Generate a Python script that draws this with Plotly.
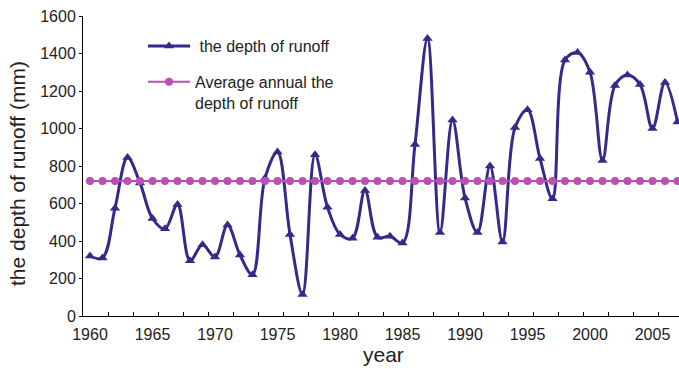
import plotly.graph_objects as go

years = list(range(1960, 2008))
runoff = [320, 310, 575, 845, 710, 520, 465, 595, 295, 380,
          315, 485, 325, 220, 735, 875, 435, 115, 860, 580,
          435, 415, 670, 420, 425, 390, 915, 1480, 445, 1045,
          630, 445, 800, 395, 1005, 1100, 840, 625, 1365, 1405,
          1300, 830, 1230, 1285, 1235, 1000, 1245, 1035]
average = [720] * len(years)
xtick_years = [1960, 1965, 1970, 1975, 1980, 1985, 1990, 1995, 2000, 2005]
ytick_vals = [0, 200, 400, 600, 800, 1000, 1200, 1400, 1600]

FONT = "Liberation Sans, Arial, sans-serif"
LINE_C = "#35298a"
AVG_C = "#bb4fb5"
xr = [1959.44, 2007.12]

fig = go.Figure()
fig.add_trace(go.Scatter(
    x=years, y=runoff, name=" the depth of runoff", legendgroup="a",
    mode="lines+markers",
    line=dict(color=LINE_C, width=3, shape="spline", smoothing=1),
    marker=dict(symbol="triangle-up", size=9, color=LINE_C),
    cliponaxis=True,
))
fig.add_trace(go.Scatter(
    x=years, y=average, name="Average annual the<br>depth of runoff", legendgroup="b",
    mode="lines+markers", xaxis="x2",
    line=dict(color=AVG_C, width=2),
    marker=dict(symbol="circle", size=8, color=AVG_C),
))

fig.update_layout(
    width=679, height=369,
    margin=dict(l=83, r=0, t=16, b=53),
    paper_bgcolor="white", plot_bgcolor="white",
    font=dict(family=FONT, size=16, color="#222"),
    showlegend=True,
    legend=dict(x=(143 - 83) / 596, y=(316 - 29) / 300, xanchor="left", yanchor="top",
                bgcolor="rgba(0,0,0,0)", font=dict(size=16, color="#222"),
                valign="top", tracegroupgap=12, itemwidth=42),
    xaxis=dict(range=xr, tickvals=xtick_years, ticks="", showline=True,
               linecolor="black", linewidth=1, showgrid=False, zeroline=False,
               tickfont=dict(size=16), ticklabelstandoff=4),
    xaxis2=dict(range=xr, overlaying="x", anchor="y", side="bottom",
                tickmode="linear", tick0=1959.44, dtick=2, ticks="inside",
                ticklen=4, tickcolor="black", showticklabels=False,
                showline=False, showgrid=False, zeroline=False),
    yaxis=dict(range=[0, 1600], tickvals=ytick_vals, ticks="outside", ticklen=3,
               tickcolor="black", showline=True, linecolor="black", linewidth=1,
               showgrid=False, zeroline=False, tickfont=dict(size=16)),
    annotations=[
        dict(text="year", xref="paper", yref="paper", x=(383 - 83) / 596,
             y=(316 - 355) / 300, showarrow=False, font=dict(size=21, color="#222"),
             xanchor="center", yanchor="middle"),
        dict(text="the depth of runoff (mm)", xref="paper", yref="paper",
             x=(18 - 83) / 596, y=(316 - 174) / 300, textangle=-90, showarrow=False,
             font=dict(size=21, color="#222"), xanchor="center", yanchor="middle"),
    ],
)

fig.write_html(
    "out.html",
    config={"displayModeBar": False},
    post_script="document.body.style.margin='0';document.body.style.overflow='hidden';",
)
